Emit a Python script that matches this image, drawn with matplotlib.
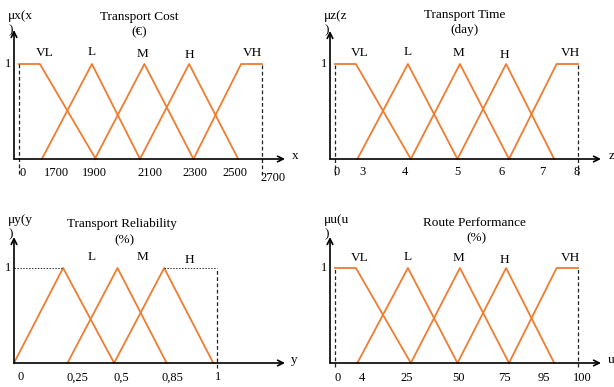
import matplotlib
matplotlib.use('Agg')
import matplotlib.pyplot as plt

plt.rcParams['font.family'] = ['Liberation Serif', 'DejaVu Serif']

ORANGE = '#ED7D31'
W, H = 614, 387
PX = 48.6   # pixels per x unit
PY = 95.0   # pixels per membership unit

# ---- data (x in drawing units, membership 0..1) ----
terms5 = ["VL", "L", "M", "H", "VH"]
terms3 = ["L", "M", "H"]

cost_x = [[0, 0.43, 1.58], [0.47, 1.50, 2.49], [1.56, 2.58, 3.59], [2.49, 3.50, 4.51], [3.59, 4.57, 5.0]]
cost_mu = [[1, 1, 0], [0, 1, 0], [0, 1, 0], [0, 1, 0], [0, 1, 1]]
cost_ticks = ["0", "1700", "1900", "2100", "2300", "2500", "2700"]
cost_tick_pos = [0.08, 0.78, 1.56, 2.70, 3.62, 4.44, 5.23]

time_x = [[0, 0.43, 1.56], [0.46, 1.50, 2.52], [1.56, 2.57, 3.58], [2.52, 3.52, 4.51], [3.58, 4.56, 5.0]]
time_mu = [[1, 1, 0], [0, 1, 0], [0, 1, 0], [0, 1, 0], [0, 1, 1]]
time_ticks = ["0", "3", "4", "5", "6", "7", "8"]
time_tick_pos = [0.04, 0.56, 1.44, 2.51, 3.42, 4.26, 4.98]

rel_x = [[0, 1.01, 2.06], [1.10, 2.13, 3.14], [2.06, 3.09, 4.10]]
rel_mu = [[0, 1, 0], [0, 1, 0], [0, 1, 0]]
rel_ticks = ["0", "0,25", "0,5", "0,85", "1"]
rel_tick_pos = [0.14, 1.30, 2.20, 3.27, 4.20]

perf_x = [[0, 0.43, 1.56], [0.46, 1.50, 2.52], [1.56, 2.57, 3.58], [2.52, 3.52, 4.51], [3.58, 4.56, 5.0]]
perf_mu = [[1, 1, 0], [0, 1, 0], [0, 1, 0], [0, 1, 0], [0, 1, 1]]
perf_ticks = ["0", "4", "25", "50", "75", "95", "100"]
perf_tick_pos = [0.06, 0.56, 1.48, 2.55, 3.48, 4.30, 5.08]

fig = plt.figure(figsize=(W / 100, H / 100), dpi=100)


def make_ax(zero_px, ox, tipx, oy, tipy):
    ax = fig.add_axes([ox / W, (H - oy) / H, (tipx - ox) / W, (oy - tipy) / H])
    x0 = (ox - zero_px) / PX
    x1 = (tipx - zero_px) / PX
    ax.set_xlim(x0, x1)
    ax.set_ylim(0, (oy - tipy) / PY)
    ax.axis('off')
    arr = dict(arrowstyle='->', color='black', lw=1.2, shrinkA=0, shrinkB=0)
    ax.annotate('', xy=(x1, 0), xytext=(x0, 0), arrowprops=arr, annotation_clip=False)
    ax.annotate('', xy=(x0, (oy - tipy) / PY), xytext=(x0, 0), arrowprops=arr, annotation_clip=False)
    return ax, x0


def draw_panel(ax, x0, xs, mus, terms, term_pos, term_y, ticks, tick_pos, title, unit, title_pos,
               ylab, axlab, axlab_x, tick_y=-0.15, low_last=False):
    for xv, mv in zip(xs, mus):
        ax.plot(xv, mv, color=ORANGE, lw=1.3, clip_on=False)
    for t, px, py in zip(terms, term_pos, term_y):
        ax.text(px, py, t, fontsize=9.5, ha='center', va='center')
    for i, (lab, px) in enumerate(zip(ticks, tick_pos)):
        yy = tick_y - 0.05 if (low_last and i == len(ticks) - 1) else tick_y
        ax.text(px, yy, lab, fontsize=9, ha='center', va='center')
    ax.text(title_pos[0], title_pos[1], title, fontsize=9.5, ha='center', va='center')
    ax.text(title_pos[2], title_pos[3], unit, fontsize=9.5, ha='center', va='center')
    ax.text(x0 - 0.06, 1.0, "1", fontsize=9, ha='right', va='center')
    ax.text(x0 - 0.12, 1.43, ylab + "\n)", fontsize=9.5, ha='left', va='center', linespacing=1.35)
    ax.text(axlab_x, 0.03, axlab, fontsize=9.5, ha='left', va='center')


dash = dict(color='#222222', lw=0.9, dashes=(3, 2), clip_on=False)

# panel 1: transport cost
ax1, x01 = make_ax(19, 14, 285, 159, 30)
draw_panel(ax1, x01, cost_x, cost_mu, terms5, [0.53, 1.50, 2.55, 3.50, 4.81],
           [1.12, 1.13, 1.11, 1.09, 1.12], cost_ticks, cost_tick_pos,
           "Transport Cost", "(€)", (2.47, 1.49, 2.47, 1.33), "μx(x", "x", 5.62, low_last=True)
ax1.plot([0, 0], [-0.16, 1], **dash)
ax1.plot([5, 5], [-0.17, 1], **dash)

# panel 2: transport time
ax2, x02 = make_ax(335, 330, 601, 159, 31)
draw_panel(ax2, x02, time_x, time_mu, terms5, [0.51, 1.50, 2.55, 3.48, 4.84],
           [1.12, 1.13, 1.12, 1.09, 1.12], time_ticks, time_tick_pos,
           "Transport Time", "(day)", (2.67, 1.52, 2.67, 1.36), "μz(z", "z", 5.62, tick_y=-0.14)
ax2.plot([0, 0], [-0.17, 1], **dash)
ax2.plot([5, 5], [-0.17, 1], **dash)

# panel 3: transport reliability
ax3, x03 = make_ax(14, 14, 285, 363, 237)
draw_panel(ax3, x03, rel_x, rel_mu, terms3, [1.60, 2.65, 3.60], [1.12, 1.12, 1.08],
           rel_ticks, rel_tick_pos, "Transport Reliability", "(%)", (2.22, 1.46, 2.28, 1.29),
           "μy(y", "y", 5.70)
dot = dict(color='#333333', lw=0.7, dashes=(1.5, 1.5), clip_on=False)
ax3.plot([0, rel_x[0][1]], [1, 1], **dot)
ax3.plot([rel_x[2][1], 4.18], [1, 1], **dot)
ax3.plot([4.18, 4.18], [-0.05, 1], **dash)

# panel 4: route performance
ax4, x04 = make_ax(335, 330, 601, 363, 237)
draw_panel(ax4, x04, perf_x, perf_mu, terms5, [0.51, 1.50, 2.55, 3.48, 4.84],
           [1.11, 1.12, 1.11, 1.08, 1.11], perf_ticks, perf_tick_pos,
           "Route Performance", "(%)", (2.86, 1.47, 2.90, 1.31), "μu(u", "u", 5.62, tick_y=-0.16)
ax4.plot([0, 0], [-0.04, 1], **dash)
ax4.plot([5, 5], [-0.04, 1], **dash)

fig.savefig('out.png', dpi=100)
